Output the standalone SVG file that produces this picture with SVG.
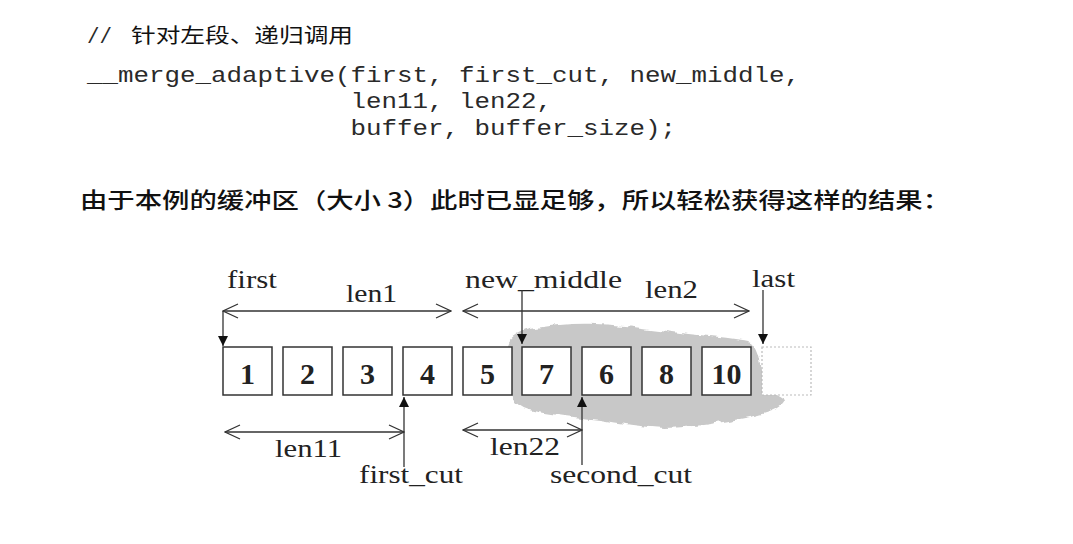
<svg xmlns="http://www.w3.org/2000/svg" width="1073" height="544" viewBox="0 0 1073 544">
<style>
.code{font-family:"Liberation Mono","DejaVu Sans Mono",monospace;font-size:22px;fill:#2a2a2a;}
.cjk{font-family:"Noto Sans CJK SC","Noto Sans",sans-serif;fill:#111;}
.lbl{font-family:"Liberation Serif","Times New Roman",serif;font-size:26px;fill:#222;}
.num{font-family:"Liberation Serif","Times New Roman",serif;font-size:30px;font-weight:bold;fill:#222;text-anchor:middle;}
.box{fill:#fff;stroke:#333;stroke-width:1.5;}
.ln{fill:none;stroke:#333;stroke-width:1.3;}
</style>
<defs>
<marker id="open" viewBox="0 0 17 16" refX="16" refY="8" markerWidth="17" markerHeight="16" markerUnits="userSpaceOnUse" orient="auto-start-reverse">
<path d="M1,1 L16,8 L1,15" fill="none" stroke="#333" stroke-width="1.3"/>
</marker>
<marker id="tri" viewBox="0 0 10 10" refX="10" refY="5" markerWidth="10" markerHeight="10" markerUnits="userSpaceOnUse" orient="auto">
<path d="M0,0 L10,5 L0,10 Z" fill="#111"/>
</marker>
<filter id="rough" x="-5%" y="-10%" width="110%" height="120%">
<feTurbulence type="fractalNoise" baseFrequency="0.08" numOctaves="2" seed="3" result="n"/>
<feDisplacementMap in="SourceGraphic" in2="n" scale="7" xChannelSelector="R" yChannelSelector="G"/>
</filter>
</defs>
<rect width="1073" height="544" fill="#fff"/>

<g id="code">
<text class="code" x="87" y="43" textLength="25" lengthAdjust="spacingAndGlyphs">//</text>
<text class="cjk" x="131" y="43" font-size="20" textLength="222" lengthAdjust="spacingAndGlyphs">针对左段、递归调用</text>
<text class="code" x="87" y="82" textLength="713" lengthAdjust="spacingAndGlyphs">__merge_adaptive(first, first_cut, new_middle,</text>
<text class="code" x="350.5" y="108" textLength="201.5" lengthAdjust="spacingAndGlyphs">len11, len22,</text>
<text class="code" x="350.5" y="135" textLength="325.5" lengthAdjust="spacingAndGlyphs">buffer, buffer_size);</text>
</g>

<g id="sentence">
<text class="cjk" x="80" y="208" font-size="22" font-weight="500" textLength="870" lengthAdjust="spacingAndGlyphs">由于本例的缓冲区（大小 3）此时已显足够，所以轻松获得这样的结果：</text>
</g>

<g id="buffer-shade">
<path filter="url(#rough)" d="M508,345 C510,336 520,330 535,328 C555,325 575,323 595,324 C625,325 650,329 680,333 C705,336 730,337 752,342 C760,350 761,365 764,380 C768,392 780,395 785,400 C782,410 765,414 745,418 C720,423 695,427 665,428 C640,427 620,423 600,420 C575,417 550,415 530,410 C515,405 508,395 507,380 C506,368 507,355 508,345 Z" fill="#c8c8c8"/>
</g>

<g id="boxes">
<g id="box1"><rect class="box" x="223" y="347" width="49" height="48"/><text class="num" x="247.5" y="384">1</text></g>
<g id="box2"><rect class="box" x="283" y="347" width="49" height="48"/><text class="num" x="307.5" y="384">2</text></g>
<g id="box3"><rect class="box" x="343" y="347" width="49" height="48"/><text class="num" x="367.5" y="384">3</text></g>
<g id="box4"><rect class="box" x="403" y="347" width="49" height="48"/><text class="num" x="427.5" y="384">4</text></g>
<g id="box5"><rect class="box" x="463" y="347" width="49" height="48"/><text class="num" x="487.5" y="384">5</text></g>
<g id="box7"><rect class="box" x="522" y="347" width="49" height="48"/><text class="num" x="546.5" y="384">7</text></g>
<g id="box6"><rect class="box" x="582" y="347" width="49" height="48"/><text class="num" x="606.5" y="384">6</text></g>
<g id="box8"><rect class="box" x="642" y="347" width="49" height="48"/><text class="num" x="666.5" y="384">8</text></g>
<g id="box10"><rect class="box" x="702" y="347" width="49" height="48"/><text class="num" x="726.5" y="384">10</text></g>
<g id="box-end"><rect x="762" y="347" width="49" height="48" fill="#fff" stroke="#bbb" stroke-width="1.2" stroke-dasharray="2,2"/></g>
</g>

<g id="labels">
<text class="lbl" x="227" y="288" textLength="50" lengthAdjust="spacingAndGlyphs">first</text>
<text class="lbl" x="346" y="302" textLength="51" lengthAdjust="spacingAndGlyphs">len1</text>
<text class="lbl" x="465" y="288" textLength="157" lengthAdjust="spacingAndGlyphs">new_middle</text>
<text class="lbl" x="645" y="298" textLength="53" lengthAdjust="spacingAndGlyphs">len2</text>
<text class="lbl" x="752" y="287" textLength="43" lengthAdjust="spacingAndGlyphs">last</text>
<text class="lbl" x="275" y="457" textLength="67" lengthAdjust="spacingAndGlyphs">len11</text>
<text class="lbl" x="359" y="483" textLength="104" lengthAdjust="spacingAndGlyphs">first_cut</text>
<text class="lbl" x="490" y="455" textLength="70" lengthAdjust="spacingAndGlyphs">len22</text>
<text class="lbl" x="550" y="483" textLength="142" lengthAdjust="spacingAndGlyphs">second_cut</text>
</g>

<g id="connectors">
<line class="ln" x1="223" y1="311" x2="451" y2="311" marker-start="url(#open)" marker-end="url(#open)"/>
<line class="ln" x1="463" y1="311" x2="749" y2="311" marker-start="url(#open)" marker-end="url(#open)"/>
<line class="ln" x1="223" y1="311" x2="223" y2="346" marker-end="url(#tri)"/>
<line class="ln" x1="522" y1="290" x2="522" y2="344" marker-end="url(#tri)"/>
<line class="ln" x1="763" y1="290" x2="763" y2="344" marker-end="url(#tri)"/>
<line class="ln" x1="404" y1="467" x2="404" y2="397" marker-end="url(#tri)"/>
<line class="ln" x1="582" y1="465" x2="582" y2="397" marker-end="url(#tri)"/>
<line class="ln" x1="225" y1="432" x2="404" y2="432" marker-start="url(#open)" marker-end="url(#open)"/>
<line class="ln" x1="463" y1="430" x2="582" y2="430" marker-start="url(#open)" marker-end="url(#open)"/>
</g>
</svg>
